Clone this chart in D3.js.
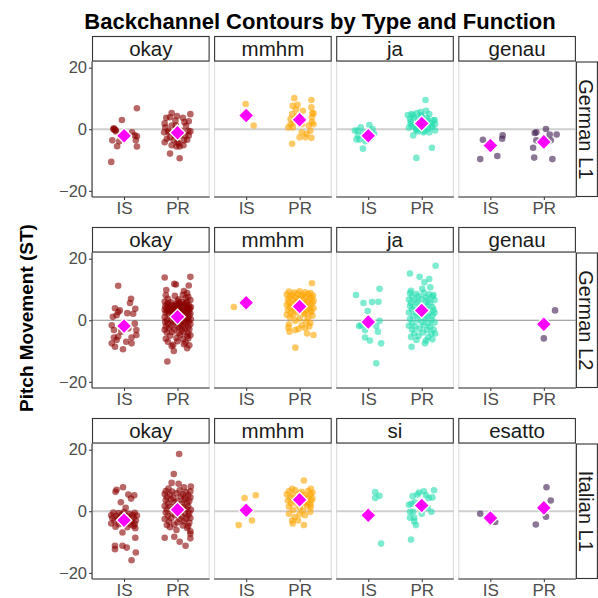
<!DOCTYPE html>
<html><head><meta charset="utf-8">
<script src="https://cdn.jsdelivr.net/npm/d3@7"></script>
<style>body{margin:0;background:#fff}svg{display:block}text{font-family:"Liberation Sans",Arial,sans-serif}</style>
</head><body><svg id="c" width="598" height="598"></svg>
<script>
// ---------------- DATA ----------------
const groupsRows = ["German L1", "German L2", "Italian L1"];
const typeLabels = [["okay","mmhm","ja","genau"],["okay","mmhm","ja","genau"],["okay","mmhm","si","esatto"]];
const funcs = ["IS", "PR"];
const yTicks = [-20, 0, 20];
const yDomain = [-22, 22];

// points: [jitter (in category units), pitch movement (ST)]
const gl1_okay_IS = [[0.24,6.8],[-0.04,3.0],[-0.18,-0.2],[-0.2,0.1],[-0.15,-0.75],[-0.22,-3.6],[-0.13,-5.5],[-0.24,-10.6],[0.15,-1.0],[0.2,-2.0],[0.24,-2.3],[0.22,-3.6],[0.24,-5.6],[-0.09,-3.9],[-0.19,0.3],[-0.16,-0.3]];
const gl1_okay_PR = [[-0.11,5.3],[-0.14,3.9],[0.10,3.7],[0.24,4.9],[-0.24,1.9],[-0.04,2.8],[0.21,2.6],[-0.23,0.6],[0.16,1.1],[0.24,-0.7],[-0.17,-1.0],[0.14,-2.0],[-0.2,-3.1],[0.18,-3.4],[0.02,-4.7],[0.04,-5.6],[-0.14,-7.9],[0.04,-9.4],[-0.07,-3.6],[0.08,-0.5],[-0.03,1.2],[-0.24,-4.2],[-0.11,-5.2],[0.21,-2.0],[0.12,-3.6],[-0.17,-0.5],[0.05,-2.0],[-0.21,3.7],[-0.01,4.3],[0.02,-0.5],[-0.05,-2.0],[0.11,-5.2],[-0.02,-5.6],[-0.14,-2.6],[0.2,-0.5],[-0.25,-1.0],[-0.11,1.2],[0.13,2.3],[0.0,-4.2]];
const gl1_mmhm_IS = [[-0.01,8.2],[0.14,1.2]];
const gl1_mmhm_PR = [[-0.1,10.1],[-0.13,7.6],[-0.04,7.9],[0.22,9.5],[0.22,7.1],[-0.14,4.9],[0.26,5.1],[-0.17,3.3],[0.23,2.3],[-0.21,0.6],[-0.13,0.6],[0.04,-1.0],[0.13,-1.5],[0.22,-2.8],[0.0,-2.6],[-0.14,-4.7],[0.17,1.2],[0.2,-0.5],[-0.05,4.4],[0.06,6.0],[0.23,3.9],[-0.17,1.6],[0.11,-2.6],[-0.07,6.4],[0.04,1.6],[-0.11,2.3],[0.24,5.3],[0.26,1.6]];
const gl1_ja_IS = [[-0.14,0.6],[0.02,1.4],[-0.2,-0.4],[-0.22,-3.3],[-0.16,-3.3],[0.11,-1.5],[0.08,0.1],[-0.05,-3.9],[-0.1,-6.3],[-0.25,-0.4],[-0.09,-1.0],[0.05,-2.6],[-0.19,-2.0]];
const gl1_ja_PR = [[0.07,9.5],[-0.19,4.9],[-0.09,5.3],[0.14,4.9],[0.08,6.0],[-0.22,3.3],[0.25,1.7],[0.25,-0.4],[-0.16,-2.0],[-0.1,0.1],[0.14,-1.0],[0.19,-6.0],[-0.1,-9.3],[-0.21,1.7],[-0.07,3.3],[0.11,2.8],[-0.12,1.1],[0.18,1.1],[0.03,-1.0],[-0.16,4.6],[-0.01,4.6],[0.06,0.6],[-0.07,-0.7],[-0.26,4.6],[0.24,3.0],[-0.2,2.5],[-0.15,3.8],[-0.05,2.2],[0.0,4.0],[0.1,3.6],[0.15,2.0],[0.2,0.8],[-0.24,0.5],[-0.1,-0.3],[0.05,-0.6],[0.22,2.9],[-0.18,1.0],[0.12,0.2],[-0.02,5.6]];
const gl1_genau_IS = [[-0.14,-3.4],[0.23,-2.0],[0.22,-3.1],[-0.19,-9.7],[0.13,-8.7]];
const gl1_genau_PR = [[-0.14,-1.0],[-0.17,-1.2],[0.04,0.1],[0.24,-1.7],[0.11,-1.7],[-0.14,-3.6],[-0.2,-6.0],[-0.18,-9.2],[0.16,-9.7],[0.13,-3.6]];

const gl2_okay_IS = [[-0.11,11.2],[0.13,7.0],[0.11,5.6],[0.21,3.7],[-0.17,3.9],[-0.08,3.2],[0.06,2.3],[-0.21,1.1],[-0.14,1.6],[0.2,-1.1],[-0.23,-1.6],[-0.19,-3.2],[0.23,-3.2],[-0.05,-3.7],[0.14,-5.6],[0.23,-4.8],[0.04,-7.0],[-0.14,-6.4],[-0.23,-7.5],[-0.17,-8.6],[-0.02,-9.4],[0.14,-7.5],[-0.11,-5.3],[0.08,-2.7],[-0.11,2.7],[0.17,2.1],[-0.19,-5.6],[-0.05,-2.4]];
const gl2_okay_PR = [[-0.24,13.9],[0.24,14.1],[-0.06,11.8],[-0.03,11.6],[-0.21,9.8],[0.21,11.3],[0.18,8.8],[0.12,9.5],[-0.19,-13.4],[0.18,-9.1],[-0.07,-10.0],[-0.11,-8.4],
 [-0.22,8.1],[-0.05,7.9],[0.1,8.3],[0.2,7.6],[-0.18,7.0],[0.02,6.8],[0.15,7.2],[0.24,6.6],[-0.24,6.1],[-0.12,5.8],[0.0,6.2],[0.08,5.9],[0.18,6.0],
 [-0.2,5.1],[-0.1,4.9],[-0.02,5.3],[0.06,5.0],[0.13,5.2],[0.22,4.8],[-0.23,4.5],[-0.15,4.4],[-0.06,4.6],[0.04,4.3],[0.11,4.7],[0.19,4.5],[0.25,4.2],
 [-0.2,3.9],[-0.08,4.0],[0.0,3.8],[0.09,4.1],[0.16,3.9],[0.23,3.7],[-0.24,3.4],[-0.13,3.6],[-0.03,3.3],[0.07,3.5],[0.14,3.2],[0.21,3.4],
 [-0.19,2.9],[-0.1,3.0],[0.02,2.8],[0.12,3.1],[0.2,2.7],[-0.22,2.4],[-0.05,2.5],[0.05,2.3],[0.17,2.6],[0.24,2.2],[-0.16,1.9],[-0.07,2.0],[0.1,1.8],[0.22,1.6],
 [-0.24,1.0],[-0.1,1.2],[0.03,0.9],[0.15,1.1],[0.2,0.7],[-0.2,0.1],[-0.12,-0.1],[0.0,0.2],[0.08,-0.2],[0.18,0.0],[0.25,0.3],[-0.23,-0.6],[-0.04,-0.4],[0.12,-0.7],[0.21,-0.5],
 [-0.18,-1.1],[-0.08,-0.9],[0.05,-1.2],[0.16,-1.0],[0.24,-1.3],[-0.22,-2.0],[-0.12,-1.8],[0.0,-2.1],[0.1,-1.9],[0.2,-2.2],[-0.16,-2.6],[0.04,-2.4],[0.14,-2.7],
 [-0.24,-3.1],[-0.06,-3.0],[0.08,-3.2],[0.22,-2.9],[-0.2,-4.0],[-0.1,-3.8],[0.02,-4.1],[0.12,-3.9],[0.2,-4.2],[-0.14,-5.0],[0.05,-4.8],[0.18,-5.1],[0.24,-4.9],
 [-0.22,-6.0],[-0.02,-5.8],[0.1,-6.1],[0.2,-5.9],[-0.18,-7.0],[0.0,-6.8],[0.15,-7.2],[-0.08,-8.0],[0.12,-7.8],[0.22,-8.1],
 [-0.17,5.5],[0.03,5.6],[0.16,5.5],[-0.01,4.5],[-0.14,3.1],[0.19,3.9]];
const gl2_mmhm_IS = [[-0.23,4.3]];
const gl2_mmhm_PR = [[0.23,12.0],[-0.08,-8.9],[0.26,-4.8],[0.14,-4.3],[-0.19,-3.7],[-0.21,-2.4],[-0.08,-3.2],
 [-0.2,9.3],[-0.1,9.0],[0.0,9.4],[0.1,9.1],[0.2,8.8],[-0.24,8.4],[-0.14,8.2],[-0.04,8.6],[0.06,8.3],[0.16,8.5],[0.25,8.0],
 [-0.18,7.6],[-0.08,7.4],[0.03,7.8],[0.12,7.5],[0.22,7.3],[-0.22,6.8],[-0.12,6.6],[-0.02,6.9],[0.08,6.5],[0.18,6.7],[0.26,6.3],
 [-0.2,5.8],[-0.06,5.9],[0.05,5.6],[0.14,5.9],[0.24,5.5],[-0.24,5.0],[-0.14,5.1],[0.0,4.9],[0.1,5.2],[0.2,4.8],
 [-0.18,4.2],[-0.08,4.0],[0.06,4.3],[0.16,4.1],[0.26,3.9],[-0.22,3.3],[-0.1,3.5],[0.02,3.2],[0.12,3.4],[0.22,3.1],
 [-0.16,2.5],[-0.04,2.7],[0.08,2.4],[0.2,2.6],[-0.24,1.8],[-0.12,1.6],[0.1,1.9],[0.24,1.5],[-0.18,0.9],[0.0,0.6],[0.16,0.8],
 [-0.08,-0.2],[0.12,-0.4],[0.2,-0.9],[-0.2,-1.3],[0.04,-1.6],[0.18,-2.0],[-0.02,-2.8],[0.1,-2.5]];
const gl2_ja_IS = [[-0.23,8.2],[0.21,10.2],[-0.09,5.6],[0.07,5.9],[0.19,6.0],[-0.01,3.0],[-0.14,-1.6],[-0.06,-3.2],[0.15,-1.9],[0.18,-3.7],[-0.06,-5.6],[0.03,-6.6],[0.24,-7.5],[0.15,-14.0],[-0.17,-1.9],[0.21,-0.2]];
const gl2_ja_PR = [[0.26,17.7],[-0.22,15.2],[-0.04,14.1],[0.14,13.4],[0.05,12.3],[0.16,10.7],[0.01,10.2],[-0.2,9.6],[-0.19,-8.6],[0.06,-7.5],[0.25,-4.3],
 [-0.22,8.8],[-0.1,8.5],[0.04,8.9],[0.14,8.4],[0.22,8.2],[-0.18,7.6],[-0.06,7.8],[0.08,7.4],[0.2,7.7],[-0.24,6.7],[-0.12,6.5],[0.0,6.9],[0.12,6.4],[0.24,6.6],
 [-0.2,5.6],[-0.08,5.8],[0.06,5.4],[0.16,5.7],[-0.22,4.6],[-0.14,4.4],[-0.02,4.8],[0.1,4.5],[0.2,4.3],[-0.18,3.5],[-0.06,3.3],[0.08,3.6],[0.22,3.4],
 [-0.24,2.5],[-0.1,2.3],[0.02,2.6],[0.14,2.2],[0.24,2.4],[-0.16,1.4],[-0.04,1.6],[0.1,1.2],[0.2,1.5],[-0.22,0.4],[-0.08,0.2],[0.06,0.5],[0.18,0.1],
 [-0.18,-0.8],[0.0,-0.6],[0.12,-1.0],[0.24,-0.7],[-0.24,-1.8],[-0.12,-2.0],[0.04,-1.7],[0.16,-2.1],[-0.18,-3.0],[-0.04,-2.8],[0.1,-3.2],[0.22,-3.0],
 [-0.14,-4.2],[0.02,-4.0],[0.18,-4.4],[-0.2,-5.4],[-0.06,-5.1],[0.12,-5.5],[-0.1,-6.4],[0.08,-6.6],[0.2,-6.2]];
const gl2_genau_IS = [];
const gl2_genau_PR = [[0.21,3.2],[0.0,-5.9]];

const il1_okay_IS = [[-0.02,7.8],[-0.14,7.0],[-0.16,6.3],[0.08,5.4],[0.19,5.2],[0.13,4.1],[-0.06,2.9],[0.03,1.1],[0.21,-8.6],[-0.17,-11.2],[-0.17,-12.3],[-0.03,-11.2],[0.05,-11.8],[0.22,-13.4],[0.14,-15.9],[-0.03,-6.9],[0.21,-5.5],
 [-0.2,-0.4],[-0.1,-0.6],[0.0,-0.3],[0.1,-0.8],[0.2,-0.5],[-0.24,-1.3],[-0.14,-1.5],[-0.04,-1.1],[0.06,-1.6],[0.16,-1.2],[0.24,-1.4],
 [-0.22,-2.2],[-0.12,-2.4],[-0.02,-2.0],[0.08,-2.5],[0.18,-2.1],[-0.18,-3.1],[-0.06,-3.3],[0.04,-3.0],[0.14,-3.4],[0.22,-2.9],
 [-0.24,-4.0],[-0.1,-4.2],[0.02,-3.9],[0.12,-4.3],[0.2,-4.1],[-0.16,-5.0],[0.06,-5.2],[0.18,-4.8]];
const il1_okay_PR = [[0.03,18.6],[-0.07,12.1],[-0.11,9.2],[0.02,8.9],[0.12,7.8],[0.25,8.0],[-0.17,7.4],[-0.24,-8.6],[-0.06,-8.3],[0.04,-9.9],[0.15,-11.2],[0.24,-8.8],[-0.02,-6.1],[0.24,-6.5],[0.24,-7.3],
 [-0.22,6.6],[-0.1,6.4],[0.04,6.8],[0.16,6.2],[0.24,6.5],[-0.24,5.6],[-0.14,5.4],[-0.02,5.8],[0.1,5.5],[0.2,5.2],[-0.2,4.6],[-0.08,4.4],[0.06,4.8],[0.14,4.3],[0.24,4.5],
 [-0.22,3.6],[-0.12,3.8],[0.0,3.4],[0.12,3.6],[0.22,3.3],[-0.18,2.6],[-0.06,2.8],[0.08,2.4],[0.18,2.7],[-0.24,1.7],[-0.14,1.5],[-0.02,1.8],[0.1,1.4],[0.2,1.6],
 [-0.2,0.6],[-0.08,0.8],[0.06,0.4],[0.16,0.7],[0.25,0.5],[-0.22,-0.4],[-0.1,-0.6],[0.02,-0.3],[0.14,-0.7],[0.22,-0.5],[-0.18,-1.5],[-0.04,-1.3],[0.08,-1.6],[0.2,-1.4],
 [-0.24,-2.5],[-0.12,-2.3],[0.04,-2.6],[0.16,-2.4],[0.24,-2.2],[-0.16,-3.4],[0.0,-3.6],[0.12,-3.3],[0.22,-3.7],[-0.2,-4.5],[-0.06,-4.3],[0.1,-4.6],[0.2,-4.8],[0.18,-5.4],[-0.14,-5.2]];
const il1_mmhm_IS = [[-0.03,4.3],[0.18,5.2],[-0.14,-4.5],[0.11,-3.0]];
const il1_mmhm_PR = [[0.08,10.0],[-0.14,7.3],[0.21,7.3],[-0.14,-3.0],[-0.13,-4.0],[0.08,-4.5],[-0.03,-3.0],[0.1,-1.3],[-0.09,-1.9],[0.2,-0.2],[0.21,1.4],
 [-0.2,6.5],[-0.08,6.8],[0.04,6.3],[0.16,6.6],[0.24,6.0],[-0.24,5.5],[-0.12,5.3],[0.0,5.7],[0.1,5.2],[0.2,5.4],[-0.18,4.5],[-0.06,4.3],[0.06,4.7],[0.16,4.4],[0.24,4.1],
 [-0.22,3.5],[-0.1,3.3],[0.02,3.6],[0.14,3.2],[0.22,3.4],[-0.16,2.5],[-0.04,2.3],[0.1,2.6],[0.2,2.2],[-0.2,1.5],[0.0,1.2],[0.14,1.6],[-0.12,0.4],[0.06,0.2],[-0.2,-0.8],[0.0,-1.0]];
const il1_si_IS = [[0.13,6.2],[0.21,5.0],[0.13,4.3],[0.24,-10.5]];
const il1_si_PR = [[0.04,6.5],[0.23,6.8],[-0.08,5.4],[0.08,5.2],[-0.17,4.9],[0.13,4.3],[0.2,4.5],[-0.19,2.4],[-0.24,2.1],[0.0,-0.8],[-0.22,-0.2],[-0.16,-0.2],[0.18,-0.2],[-0.22,-2.1],[-0.14,-2.1],[-0.11,-4.5],[-0.14,-3.3],[-0.2,-9.2],[-0.13,2.9],[0.11,1.1],[-0.05,6.1]];
const il1_esatto_IS = [[-0.19,-0.8],[0.09,-3.5]];
const il1_esatto_PR = [[0.05,7.8],[0.13,3.5],[0.04,-1.8],[-0.15,-4.3]];

// means per row: [IS, PR] for each type (null = no data)
const meansGL1 = [[-2.1,-1.1],[4.5,3.1],[-2.1,1.9],[-5.3,-4.1]];
const meansGL2 = [[-1.9,1.1],[5.7,4.5],[-0.6,3.2],[null,-1.3]];
const meansIL1 = [[-2.9,0.5],[0.3,3.7],[-1.3,1.9],[-2.2,1.1]];

const pointSets = [
  [[gl1_okay_IS,gl1_okay_PR],[gl1_mmhm_IS,gl1_mmhm_PR],[gl1_ja_IS,gl1_ja_PR],[gl1_genau_IS,gl1_genau_PR]],
  [[gl2_okay_IS,gl2_okay_PR],[gl2_mmhm_IS,gl2_mmhm_PR],[gl2_ja_IS,gl2_ja_PR],[gl2_genau_IS,gl2_genau_PR]],
  [[il1_okay_IS,il1_okay_PR],[il1_mmhm_IS,il1_mmhm_PR],[il1_si_IS,il1_si_PR],[il1_esatto_IS,il1_esatto_PR]]
];
const meanSets = [meansGL1, meansGL2, meansIL1];

// ---------------- STYLE / LAYOUT ----------------
const typeColors = ["#8B0000", "#FFA500", "#24DDB0", "#3D1A4F"];
const panelLeft0 = 92, panelW = 117.6, panelGap = 4.5;
const rowTop0 = 36, rowPitch = 191, stripH = 25.5, panelH = 135.5;
const rightStripW = 21;
const zeroStyle = [{c:"#CFCFCF", w:2}, {c:"#8C8C8C", w:1}, {c:"#CFCFCF", w:2}];

const svg = d3.select("#c");

svg.append("text").attr("x", 320).attr("y", 28.5).attr("text-anchor","middle")
  .style("font-size","22px").style("font-weight","bold").attr("fill","#000")
  .text("Backchannel Contours by Type and Function");

svg.append("text").attr("transform","translate(33,318) rotate(-90)").attr("text-anchor","middle")
  .style("font-size","19px").style("font-weight","bold").attr("fill","#000")
  .text("Pitch Movement (ST)");

groupsRows.forEach((rowName, r) => {
  const stripTop = rowTop0 + r * rowPitch;
  const pTop = stripTop + stripH, pBot = pTop + panelH;
  const y = d3.scaleLinear().domain(yDomain).range([pBot, pTop]);

  typeLabels[r].forEach((lab, c) => {
    const left = panelLeft0 + c * (panelW + panelGap);
    const x = d3.scalePoint().domain(funcs).range([left, left + panelW]).padding(0.6);
    const g = svg.append("g");

    // panel border (light)
    g.append("rect").attr("x", left + 0.5).attr("y", pTop).attr("width", panelW - 1).attr("height", panelH)
      .attr("fill","none").attr("stroke","#D9D9D9").attr("stroke-width",1);

    // zero line
    g.append("line").attr("x1", left).attr("x2", left + panelW).attr("y1", y(0)).attr("y2", y(0))
      .attr("stroke", zeroStyle[r].c).attr("stroke-width", zeroStyle[r].w);

    // points
    funcs.forEach((f, fi) => {
      const pts = pointSets[r][c][fi];
      g.selectAll(null).data(pts).enter().append("circle")
        .attr("cx", d => x(f) + d[0] * x.step())
        .attr("cy", d => y(d[1]))
        .attr("r", 3.3)
        .attr("fill", typeColors[c]).attr("fill-opacity", 0.6);
    });

    // means
    const ms = meanSets[r][c].map((v, i) => ({f: funcs[i], v})).filter(d => d.v !== null);
    g.selectAll(null).data(ms).enter().append("path")
      .attr("d", d3.symbol().type(d3.symbolSquare).size(118)())
      .attr("transform", d => `translate(${x(d.f)},${y(d.v)}) rotate(45)`)
      .attr("fill", "#FF00FF").attr("stroke", "#FFFFFF").attr("stroke-width", 1.3);

    // bottom axis
    const xa = g.append("g").attr("transform", `translate(0,${pBot})`)
      .call(d3.axisBottom(x).tickSize(3).tickPadding(2));
    xa.select(".domain").remove();
    xa.selectAll(".tick line").attr("stroke","#333333");
    xa.selectAll(".tick text").attr("fill","#4D4D4D").style("font-size","17px")
      .style("font-family",'"Liberation Sans",Arial,sans-serif');
    g.append("line").attr("x1", left).attr("x2", left + panelW).attr("y1", pBot).attr("y2", pBot)
      .attr("stroke","#333333").attr("stroke-width",1.1);

    if (c === 0) {
      const ya = g.append("g").attr("transform", `translate(${left},0)`)
        .call(d3.axisLeft(y).tickValues(yTicks).tickSize(3).tickPadding(2));
      ya.select(".domain").remove();
      ya.selectAll(".tick line").attr("stroke","#333333");
      ya.selectAll(".tick text").attr("fill","#4D4D4D").style("font-size","16.5px")
        .style("font-family",'"Liberation Sans",Arial,sans-serif');
      g.append("line").attr("x1", left).attr("x2", left).attr("y1", pTop).attr("y2", pBot)
        .attr("stroke","#333333").attr("stroke-width",1.1);
    }

    // top strip
    g.append("rect").attr("x", left + 0.5).attr("y", stripTop + 0.5).attr("width", panelW - 1).attr("height", stripH - 1)
      .attr("fill","#fff").attr("stroke","#333333").attr("stroke-width",1.1);
    g.append("text").attr("x", left + panelW / 2).attr("y", stripTop + stripH / 2 + 7)
      .attr("text-anchor","middle").style("font-size","20.5px").attr("fill","#1A1A1A").text(lab);
  });

  // right strip
  const rx = panelLeft0 + 4 * panelW + 3 * panelGap;
  svg.append("rect").attr("x", rx + 0.5).attr("y", pTop + 0.5).attr("width", rightStripW).attr("height", panelH - 1)
    .attr("fill","#fff").attr("stroke","#333333").attr("stroke-width",1.1);
  svg.append("text").attr("transform", `translate(${rx + rightStripW/2 - 7},${(pTop + pBot)/2}) rotate(90)`)
    .attr("text-anchor","middle").style("font-size","20px").attr("fill","#1A1A1A").text(rowName);
});
</script></body></html>
